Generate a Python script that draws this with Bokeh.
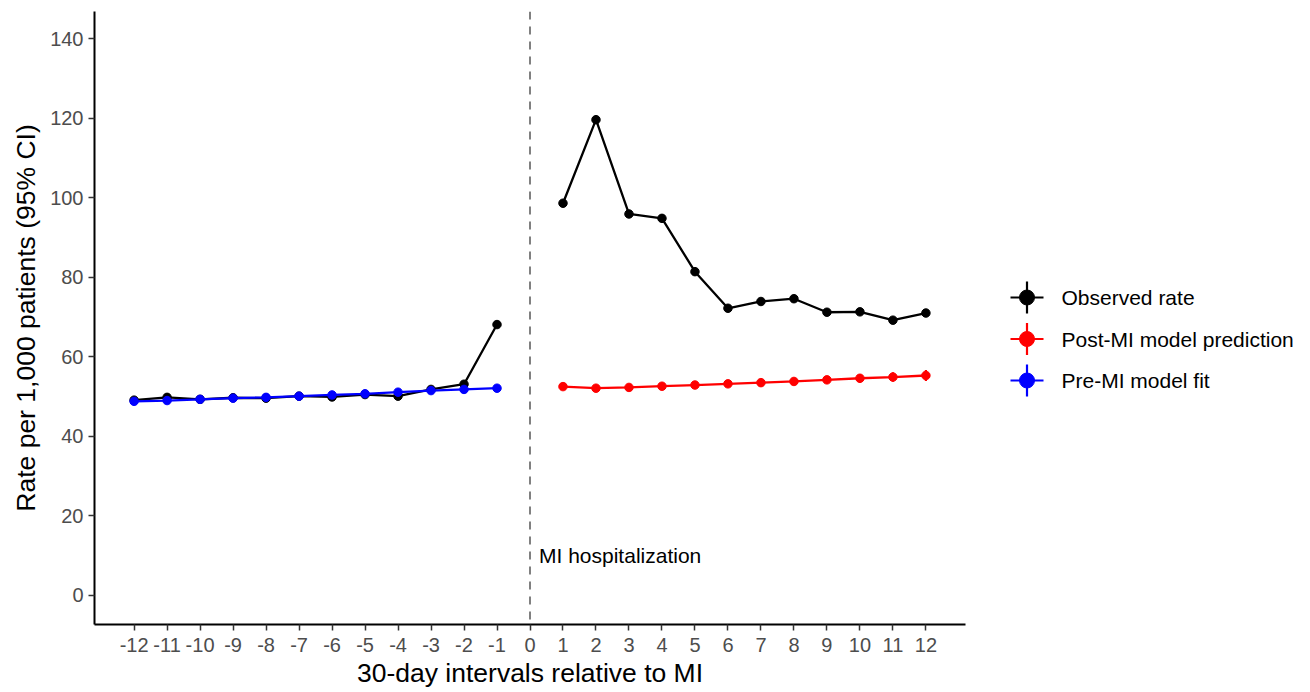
from bokeh.plotting import figure
from bokeh.models import Range1d, FixedTicker, ColumnDataSource, Span, Label
from bokeh.layouts import row
from bokeh.embed import file_html
from bokeh.resources import INLINE
from bokeh.core.properties import value

# ---------------- data ----------------
pre_x = [-12, -11, -10, -9, -8, -7, -6, -5, -4, -3, -2, -1]
post_x = [1, 2, 3, 4, 5, 6, 7, 8, 9, 10, 11, 12]

observed_pre = [49.1, 49.8, 49.3, 49.7, 49.6, 50.1, 49.9, 50.5, 50.1, 51.8, 53.1, 68.1]
observed_post = [98.6, 119.6, 95.9, 94.8, 81.4, 72.2, 73.9, 74.6, 71.2, 71.3, 69.2, 71.0]

pre_fit = [48.8, 49.0, 49.3, 49.6, 49.8, 50.1, 50.4, 50.7, 51.1, 51.5, 51.8, 52.1]

post_pred = [52.5, 52.1, 52.3, 52.6, 52.9, 53.2, 53.5, 53.8, 54.2, 54.6, 54.9, 55.3]
post_pred_lower = [51.9, 51.5, 51.7, 51.9, 52.2, 52.4, 52.7, 52.9, 53.2, 53.5, 53.7, 53.9]
post_pred_upper = [53.1, 52.7, 52.9, 53.3, 53.6, 54.0, 54.3, 54.7, 55.2, 55.7, 56.1, 56.7]

x_ticks = list(range(-12, 13))
y_ticks = [0, 20, 40, 60, 80, 100, 120, 140]

legend_labels = ["Observed rate", "Post-MI model prediction", "Pre-MI model fit"]
legend_colors = ["black", "#FF0000", "#0000FF"]

FONT = "Liberation Sans"

FIG_H = 692
TOP = 11
BOTTOM = 68

# ---------------- main plot ----------------
p = figure(width=995, height=FIG_H,
           x_range=Range1d(-13.2, 13.2), y_range=Range1d(-7.3, 146.8),
           output_backend="svg", toolbar_location=None,
           min_border_left=94, min_border_top=TOP, min_border_right=30, min_border_bottom=BOTTOM)
p.grid.visible = False
p.outline_line_color = None
p.background_fill_color = "white"
p.border_fill_color = "white"

p.xaxis.ticker = FixedTicker(ticks=x_ticks)
p.yaxis.ticker = FixedTicker(ticks=y_ticks)
p.xaxis.major_label_overrides = {t: str(t) for t in x_ticks}
p.yaxis.major_label_overrides = {t: str(t) for t in y_ticks}
for ax in (p.xaxis[0], p.yaxis[0]):
    ax.axis_line_color = "black"
    ax.axis_line_width = 2
    ax.major_tick_line_color = "#333333"
    ax.major_tick_line_width = 1.5
    ax.major_tick_out = 6
    ax.major_tick_in = 0
    ax.minor_tick_line_color = None
    ax.major_label_text_font = FONT
    ax.major_label_text_font_size = "20px"
    ax.major_label_text_color = "#4D4D4D"
    ax.axis_label_text_font = FONT
    ax.axis_label_text_font_size = "26.5px"
    ax.axis_label_text_font_style = "normal"
    ax.axis_label_text_color = "black"

p.xaxis.axis_label = "30-day intervals relative to MI"
p.yaxis.axis_label = "Rate per 1,000 patients (95% CI)"
p.xaxis.major_label_standoff = 7
p.xaxis.axis_label_standoff = 3
p.yaxis.major_label_standoff = 5
p.yaxis.axis_label_standoff = 6

# vertical reference line
p.add_layout(Span(location=0, dimension="height", line_color="#808080",
                  line_width=2, line_dash="8 7"))
p.add_layout(Label(x=0, y=10, x_offset=9, text="MI hospitalization",
                   text_font=FONT, text_font_size="21px", text_color="black",
                   text_baseline="middle", text_align="left"))

# observed (black)
src_obs_pre = ColumnDataSource(dict(x=pre_x, y=observed_pre))
src_obs_post = ColumnDataSource(dict(x=post_x, y=observed_post))
for s in (src_obs_pre, src_obs_post):
    p.line("x", "y", source=s, line_color="black", line_width=2.3)
    p.scatter("x", "y", source=s, size=8.5, fill_color="black", line_color="black")

# post-MI prediction (red)
src_pred = ColumnDataSource(dict(x=post_x, y=post_pred, lo=post_pred_lower, hi=post_pred_upper))
p.segment(x0="x", y0="lo", x1="x", y1="hi", source=src_pred, line_color="#FF0000", line_width=2.2)
p.line("x", "y", source=src_pred, line_color="#FF0000", line_width=2.3)
p.scatter("x", "y", source=src_pred, size=8.5, fill_color="#FF0000", line_color="#FF0000")

# pre-MI fit (blue)
src_fit = ColumnDataSource(dict(x=pre_x, y=pre_fit))
p.line("x", "y", source=src_fit, line_color="#0000FF", line_width=2.3)
p.scatter("x", "y", source=src_fit, size=8.5, fill_color="#0000FF", line_color="#0000FF")

# ---------------- legend panel ----------------
LW = 307
FRAME_H = FIG_H - TOP - BOTTOM
leg = figure(width=LW, height=FIG_H, x_range=Range1d(0, LW), y_range=Range1d(FRAME_H, 0),
             output_backend="svg", toolbar_location=None,
             x_axis_location=None, y_axis_location=None,
             min_border_left=0, min_border_right=0, min_border_top=TOP, min_border_bottom=BOTTOM)
leg.grid.visible = False
leg.outline_line_color = None

key_cx = 31.5
key_half_w = 16.5
key_half_h = 16
row_top = 297 - TOP
row_gap = 41.5
rows_y = [row_top + i * row_gap for i in range(len(legend_labels))]
lsrc = ColumnDataSource(dict(
    cx=[key_cx] * len(rows_y),
    x0=[key_cx - key_half_w] * len(rows_y),
    x1=[key_cx + key_half_w] * len(rows_y),
    y=rows_y,
    y0=[y - key_half_h for y in rows_y],
    y1=[y + key_half_h for y in rows_y],
    color=legend_colors,
    label=legend_labels,
    tx=[66] * len(rows_y),
))
leg.segment(x0="x0", y0="y", x1="x1", y1="y", source=lsrc, line_color="color", line_width=2.2)
leg.segment(x0="cx", y0="y0", x1="cx", y1="y1", source=lsrc, line_color="color", line_width=2.2)
leg.scatter("cx", "y", source=lsrc, size=15, fill_color="color", line_color="color")
leg.text("tx", "y", text="label", source=lsrc, text_font=value(FONT), text_font_size="21px",
         text_baseline="middle", text_align="left", text_color="black")

layout = row(p, leg, spacing=0)
open("out.html", "w").write(file_html(layout, INLINE))
